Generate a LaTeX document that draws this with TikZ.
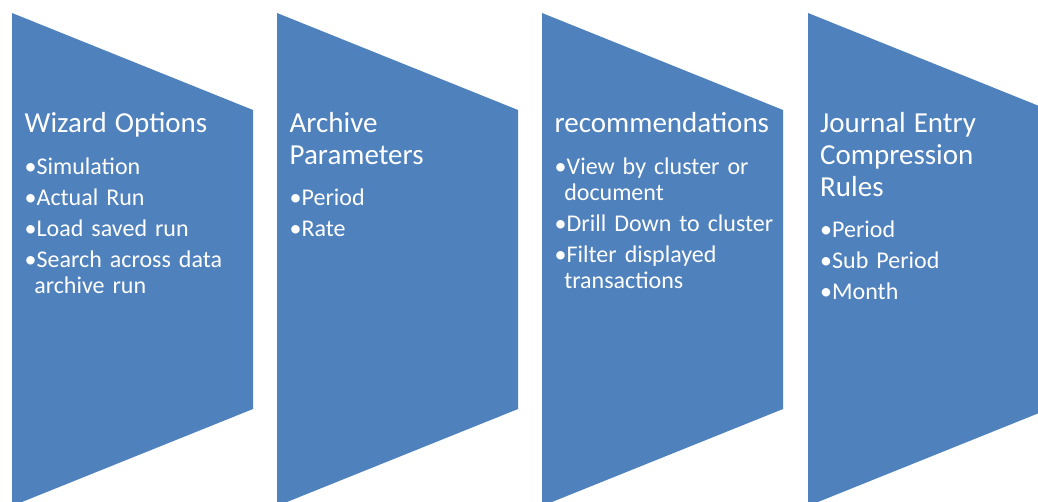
\documentclass[tikz,border=0pt]{standalone}
\usepackage{fontspec}
\setmainfont{Carlito}
\definecolor{chevblue}{HTML}{4F81BD}
% title line and bullet line of a panel
\newcommand{\ttl}[1]{{\fontsize{29}{32}\selectfont\strut #1\par}\vspace{10pt}}
\newcommand{\bul}[1]{\par\hangindent=0.4em\hangafter=1 •#1\par}
\begin{document}
\begin{tikzpicture}[x=1pt, y=-1pt,
    paneltext/.style={anchor=north west, inner sep=0pt, text=white, text width=228pt, align=left,
        font=\fontsize{24}{26}\selectfont,
        execute at begin node={\setlength{\parskip}{5pt}\setlength{\parindent}{0pt}}}]
    \useasboundingbox (0,0) rectangle (1038,502);
    \clip (0,0) rectangle (1038,502);
    % the four panels, 265pt apart
    \foreach \l in {12,277,542,808}
        \fill[chevblue] (\l,13) -- (\l+241,110) -- (\l+241,409) -- (\l,506) -- cycle;
    \node[paneltext] (wizard) at (24.5,109.6)
        {\ttl{Wizard Options}\bul{Simulation}\bul{Actual Run}\bul{Load saved run}\bul{Search across data\newline archive run}};
    \node[paneltext] (archive) at (289.5,109.6)
        {\ttl{Archive\\Parameters}\bul{Period}\bul{Rate}};
    \node[paneltext] (recomm) at (554.5,109.6)
        {\ttl{recommendations}\bul{View by cluster or\newline document}\bul{Drill Down to cluster}\bul{Filter displayed\newline transactions}};
    \node[paneltext] (journal) at (820,109.6)
        {\ttl{Journal Entry\\Compression\\Rules}\bul{Period}\bul{Sub Period}\bul{Month}};
\end{tikzpicture}
\end{document}
